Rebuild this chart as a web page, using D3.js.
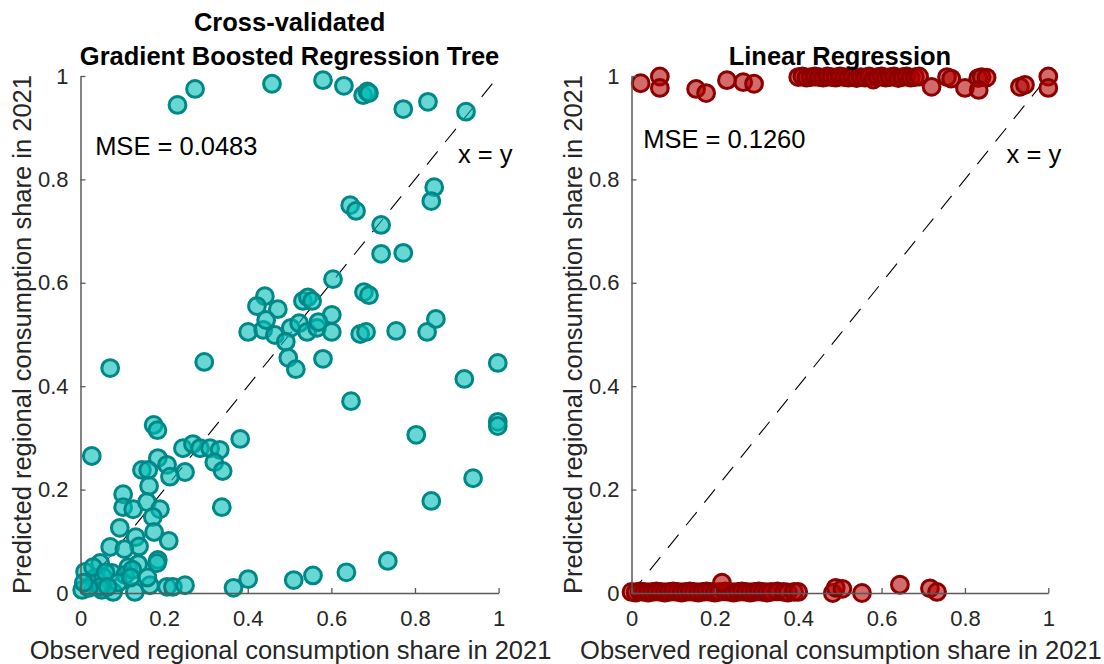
<!DOCTYPE html>
<html>
<head>
<meta charset="utf-8">
<script src="https://cdn.jsdelivr.net/npm/d3@7"></script>
<style>
  html, body { margin: 0; padding: 0; background: #fff; }
  svg { display: block; font-family: "Liberation Sans", Arial, Helvetica, sans-serif; }
</style>
</head>
<body>
<svg id="chart" width="1104" height="664"></svg>
<script>
// ---------- DATA ----------
const tickValues = [0, 0.2, 0.4, 0.6, 0.8, 1];
const tickLabels = ["0", "0.2", "0.4", "0.6", "0.8", "1"];

const gbrtTitle = ["Cross-validated", "Gradient Boosted Regression Tree"];
const lrTitle = ["Linear Regression"];
const xLabel = "Observed regional consumption share in 2021";
const yLabel = "Predicted regional consumption share in 2021";
const gbrtMSE = "MSE = 0.0483";
const lrMSE = "MSE = 0.1260";
const identityLabel = "x = y";

// Gradient boosted regression tree: observed vs predicted
const gbrtObserved = [
  0.232,0.274,0.458,0.580,0.630,0.676,0.686,0.690,0.772,0.831,0.922,
  0.846,0.839,0.645,0.659,0.719,0.719,0.772,0.604,
  0.441,0.422,0.472,0.532,0.544,0.554,0.678,0.690,0.601,0.401,0.437,0.444,0.465,0.503,0.523,0.542,0.566,0.569,0.601,0.491,0.497,0.515,0.580,0.669,0.683,0.755,0.829,0.850,
  0.998,0.918,0.647,0.803,0.998,0.998,0.939,0.839,
  0.071,0.296,0.175,0.184,0.382,0.027,
  0.245,0.269,0.286,0.310,0.333,0.320,0.340,0.250,0.185,0.207,0.214,0.147,0.162,0.164,0.102,0.102,0.126,0.159,0.190,0.173,0.338,0.094,0.132,0.176,0.211,0.071,0.185,0.183,0.114,0.138,0.047,0.011,0.075,0.107,0.035,0.054,0.004,0.051,0.078,0.130,0.166,0.207,0.221,0.250,0.047,0.124,
  0.020,0.090,0.120,0.030,0.060,0.160,0.140,0.105,0.065,0.008,
  0.366,0.401,0.510,0.556,0.636,0.735
];
const gbrtPredicted = [
  0.944,0.975,0.985,0.992,0.981,0.963,0.970,0.967,0.936,0.950,0.931,
  0.785,0.758,0.750,0.739,0.712,0.656,0.658,0.607,
  0.574,0.555,0.549,0.565,0.572,0.565,0.582,0.576,0.538,0.505,0.509,0.528,0.499,0.513,0.522,0.505,0.513,0.524,0.505,0.486,0.455,0.433,0.453,0.501,0.505,0.507,0.505,0.530,
  0.445,0.414,0.371,0.306,0.331,0.323,0.222,0.178,
  0.435,0.447,0.325,0.315,0.298,0.265,
  0.280,0.288,0.280,0.280,0.277,0.253,0.236,0.234,0.261,0.248,0.225,0.238,0.238,0.207,0.191,0.166,0.162,0.176,0.162,0.147,0.166,0.126,0.108,0.118,0.101,0.089,0.064,0.058,0.050,0.056,0.058,0.041,0.039,0.035,0.029,0.031,0.006,0.006,0.002,0.002,0.015,0.012,0.012,0.015,0.012,0.045,
  0.010,0.020,0.030,0.050,0.040,0.030,0.090,0.085,0.012,0.020,
  0.010,0.027,0.025,0.034,0.040,0.062
];

// Linear regression: observed vs predicted
const lrObserved = [
  0.022,0.068,0.068,0.155,0.179,0.229,0.268,0.294,
  0.400,0.410,0.420,0.430,0.440,0.450,0.460,0.470,0.480,0.490,0.500,0.510,0.520,0.530,0.540,0.550,0.560,0.570,0.580,0.590,0.600,0.610,0.620,0.630,0.640,0.650,0.660,0.670,0.680,0.690,
  0.720,0.757,0.767,0.800,0.832,0.840,0.852,0.833,0.932,0.944,1.000,1.000,
  0.000,0.010,0.020,0.030,0.040,0.050,0.060,0.070,0.080,0.090,0.100,0.110,0.120,0.130,0.140,0.150,0.160,0.170,0.180,0.190,0.200,0.210,0.225,0.235,0.245,0.255,0.265,0.275,0.285,0.295,0.305,0.315,0.325,0.335,0.350,0.365,0.375,0.390,0.400,
  0.217,0.483,0.490,0.506,0.553,0.644,0.716,0.733
];
const lrPredicted = [
  0.986,0.999,0.977,0.975,0.967,0.992,0.988,0.985,
  0.998,0.999,0.997,0.998,0.999,0.998,0.997,0.999,0.998,0.997,0.999,0.998,0.997,0.999,0.996,0.998,0.997,0.999,0.993,0.998,0.999,0.997,0.998,0.999,0.996,0.998,0.999,0.997,0.998,0.999,
  0.979,0.998,0.995,0.977,0.996,0.998,0.997,0.973,0.979,0.983,0.999,0.977,
  0.002,0.001,0.003,0.002,0.001,0.002,0.003,0.002,0.001,0.002,0.003,0.002,0.001,0.002,0.003,0.002,0.001,0.002,0.003,0.002,0.001,0.002,0.003,0.002,0.001,0.002,0.003,0.002,0.001,0.002,0.003,0.002,0.001,0.002,0.003,0.002,0.001,0.002,0.002,
  0.020,0.000,0.010,0.008,0.000,0.016,0.009,0.002
];

// ---------- DRAW ----------
const svg = d3.select("#chart");
const yRange = [593, 76];

const panels = [
  {
    xRange: [80.5, 498.6], obs: gbrtObserved, pred: gbrtPredicted, title: gbrtTitle,
    titleY: [31, 65], mse: gbrtMSE, msePos: [0.035, 0.847], idPos: [0.903, 0.832],
    fill: "rgb(0,188,180)", fillOpacity: 0.6, stroke: "rgb(0,136,136)", yLabelX: 31
  },
  {
    xRange: [631.5, 1048.3], obs: lrObserved, pred: lrPredicted, title: lrTitle,
    titleY: [65], mse: lrMSE, msePos: [0.028, 0.861], idPos: [0.90, 0.832],
    fill: "rgb(180,0,0)", fillOpacity: 0.58, stroke: "rgb(140,0,0)", yLabelX: 582
  }
];

const textColor = "#262626";
const axisColor = "#5a5a5a";

panels.forEach(p => {
  const x = d3.scaleLinear().domain([0, 1]).range(p.xRange);
  const y = d3.scaleLinear().domain([0, 1]).range(yRange);
  const g = svg.append("g");

  // identity dashed line
  g.append("line")
    .attr("x1", x(0)).attr("y1", y(0)).attr("x2", x(1)).attr("y2", y(1))
    .attr("stroke", "#000").attr("stroke-width", 1.1)
    .attr("stroke-dasharray", "17,12");

  // points
  const pts = p.obs.map((v, i) => [v, p.pred[i]]);
  g.append("g").selectAll("circle").data(pts).join("circle")
    .attr("cx", d => x(d[0])).attr("cy", d => y(d[1]))
    .attr("r", 8.4)
    .attr("fill", p.fill).attr("fill-opacity", p.fillOpacity)
    .attr("stroke", p.stroke).attr("stroke-width", 3);

  // axes (MATLAB style: inward ticks, box off)
  const xAxis = d3.axisBottom(x).tickValues(tickValues)
    .tickFormat((d, i) => tickLabels[i]).tickSizeInner(-5).tickSizeOuter(0).tickPadding(17);
  const yAxis = d3.axisLeft(y).tickValues(tickValues)
    .tickFormat((d, i) => tickLabels[i]).tickSizeInner(-5).tickSizeOuter(0).tickPadding(12);

  const gx = g.append("g").attr("transform", `translate(0,${yRange[0]})`).call(xAxis);
  const gy = g.append("g").attr("transform", `translate(${p.xRange[0]},0)`).call(yAxis);
  [gx, gy].forEach(a => {
    a.select(".domain").attr("stroke", axisColor).attr("stroke-width", 1.5);
    a.selectAll(".tick line").attr("stroke", axisColor).attr("stroke-width", 1.3);
    a.selectAll(".tick text").attr("fill", textColor).attr("font-size", 22)
      .attr("font-family", "Liberation Sans, Arial, sans-serif");
  });
  gx.selectAll(".tick text").attr("dy", "0.71em");

  // titles
  p.title.forEach((t, i) => {
    svg.append("text").attr("x", (p.xRange[0] + p.xRange[1]) / 2).attr("y", p.titleY[i])
      .attr("text-anchor", "middle").attr("font-size", 25.5).attr("font-weight", "bold")
      .attr("fill", "#000").text(t);
  });

  // axis labels
  svg.append("text").attr("x", (p.xRange[0] + p.xRange[1]) / 2 + 1).attr("y", 659)
    .attr("text-anchor", "middle").attr("font-size", 25.5).attr("fill", textColor).text(xLabel);
  svg.append("text")
    .attr("transform", `translate(${p.yLabelX},${(yRange[0] + yRange[1]) / 2}) rotate(-90)`)
    .attr("text-anchor", "middle").attr("font-size", 25.5).attr("fill", textColor).text(yLabel);

  // annotations
  svg.append("text").attr("x", x(p.msePos[0])).attr("y", y(p.msePos[1]))
    .attr("font-size", 25.5).attr("fill", "#000").text(p.mse);
  svg.append("text").attr("x", x(p.idPos[0])).attr("y", y(p.idPos[1]))
    .attr("font-size", 25.5).attr("fill", "#000").text(identityLabel);
});
</script>
</body>
</html>
